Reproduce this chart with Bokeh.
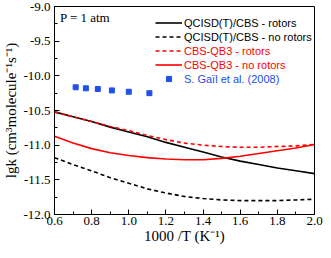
from bokeh.plotting import figure
from bokeh.models import Legend, LegendItem, Label, Range1d, SingleIntervalTicker, PrintfTickFormatter
from bokeh.embed import file_html
from bokeh.resources import INLINE

# 1000/T values (K^-1)
x = [0.6, 0.7, 0.8, 0.9, 1.0, 1.1, 1.2, 1.3, 1.4, 1.5, 1.6, 1.7, 1.8, 1.9, 2.0]
qcisd_rotors = [-10.52, -10.59, -10.66, -10.74, -10.81, -10.88, -10.96, -11.03, -11.10,
                -11.17, -11.23, -11.28, -11.33, -11.37, -11.41]
qcisd_norotors = [-11.18, -11.28, -11.37, -11.47, -11.55, -11.63, -11.69, -11.74, -11.77,
                  -11.79, -11.80, -11.80, -11.80, -11.79, -11.78]
cbs_rotors = [-10.52, -10.59, -10.66, -10.73, -10.79, -10.86, -10.92, -10.97, -11.00,
              -11.02, -11.03, -11.03, -11.02, -11.01, -10.99]
cbs_norotors = [-10.87, -10.97, -11.05, -11.11, -11.15, -11.18, -11.20, -11.21, -11.21,
                -11.19, -11.16, -11.12, -11.08, -11.04, -10.99]
gail_x = [0.714, 0.769, 0.833, 0.909, 1.0, 1.111]
gail_y = [-10.165, -10.18, -10.19, -10.21, -10.23, -10.25]

labels = ["QCISD(T)/CBS - rotors", "QCISD(T)/CBS - no rotors",
          "CBS-QB3 - rotors", "CBS-QB3 - no rotors", "S. Gaïl et al. (2008)"]

RED = "#ff0000"
BLUE = "#2050e8"

p = figure(width=323, height=250, x_range=Range1d(0.6, 2.0), y_range=Range1d(-12, -9),
           output_backend="svg", toolbar_location=None,
           min_border_left=49, min_border_right=9, min_border_top=6, min_border_bottom=36)
p.grid.visible = False
p.outline_line_color = "black"
p.outline_line_width = 1
p.background_fill_color = "white"

r1 = p.line(x, qcisd_rotors, line_color="black", line_width=1.6)
r2 = p.line(x, qcisd_norotors, line_color="black", line_width=1.6, line_dash="4 3")
r3 = p.line(x, cbs_rotors, line_color=RED, line_width=1.6, line_dash="4 3")
r4 = p.line(x, cbs_norotors, line_color=RED, line_width=1.6)
r5 = p.scatter(gail_x, gail_y, marker="square", size=5, fill_color=BLUE, line_color=BLUE)

for ax, interval in ((p.xaxis, 0.2), (p.yaxis, 0.5)):
    ax.ticker = SingleIntervalTicker(interval=interval, num_minor_ticks=2)
    ax.formatter = PrintfTickFormatter(format="%.1f")
    ax.major_tick_in = 5
    ax.major_tick_out = 0
    ax.minor_tick_in = 3
    ax.minor_tick_out = 0
    ax.axis_line_color = "black"
    ax.major_label_text_font = "Liberation Serif"
    ax.major_label_text_font_size = "13px"
    ax.major_label_text_color = "black"
    ax.axis_label_text_font = "Liberation Serif"
    ax.axis_label_text_font_size = "15px"
    ax.axis_label_text_font_style = "normal"
    ax.axis_label_text_color = "black"

p.xaxis.axis_label = "1000 /T (K⁻¹)"
p.yaxis.axis_label = "lgk (cm³molecule⁻¹s⁻¹)"
p.xaxis.major_label_standoff = 2
p.yaxis.major_label_standoff = 4
p.xaxis.axis_label_standoff = 0
p.yaxis.axis_label_standoff = 1

p.add_layout(Label(x=0.629, y=-9.055, text="P = 1 atm", text_baseline="top",
                   text_font="Liberation Serif", text_font_size="13px", text_color="black"))

def make_legend(items, color, loc):
    lg = Legend(items=items, location=loc, padding=0, margin=0, spacing=1,
                glyph_height=13, label_height=13, glyph_width=27, label_standoff=2,
                label_text_font="Liberation Sans", label_text_font_size="11px",
                label_text_color=color, border_line_alpha=0, background_fill_alpha=0)
    p.add_layout(lg)

make_legend([LegendItem(label=labels[0], renderers=[r1]),
             LegendItem(label=labels[1], renderers=[r2])], "black", (101, 171))
make_legend([LegendItem(label=labels[2], renderers=[r3]),
             LegendItem(label=labels[3], renderers=[r4])], RED, (101, 143))
make_legend([LegendItem(label=labels[4], renderers=[r5])], BLUE, (101, 129))

open("out.html", "w").write(file_html(p, INLINE))
